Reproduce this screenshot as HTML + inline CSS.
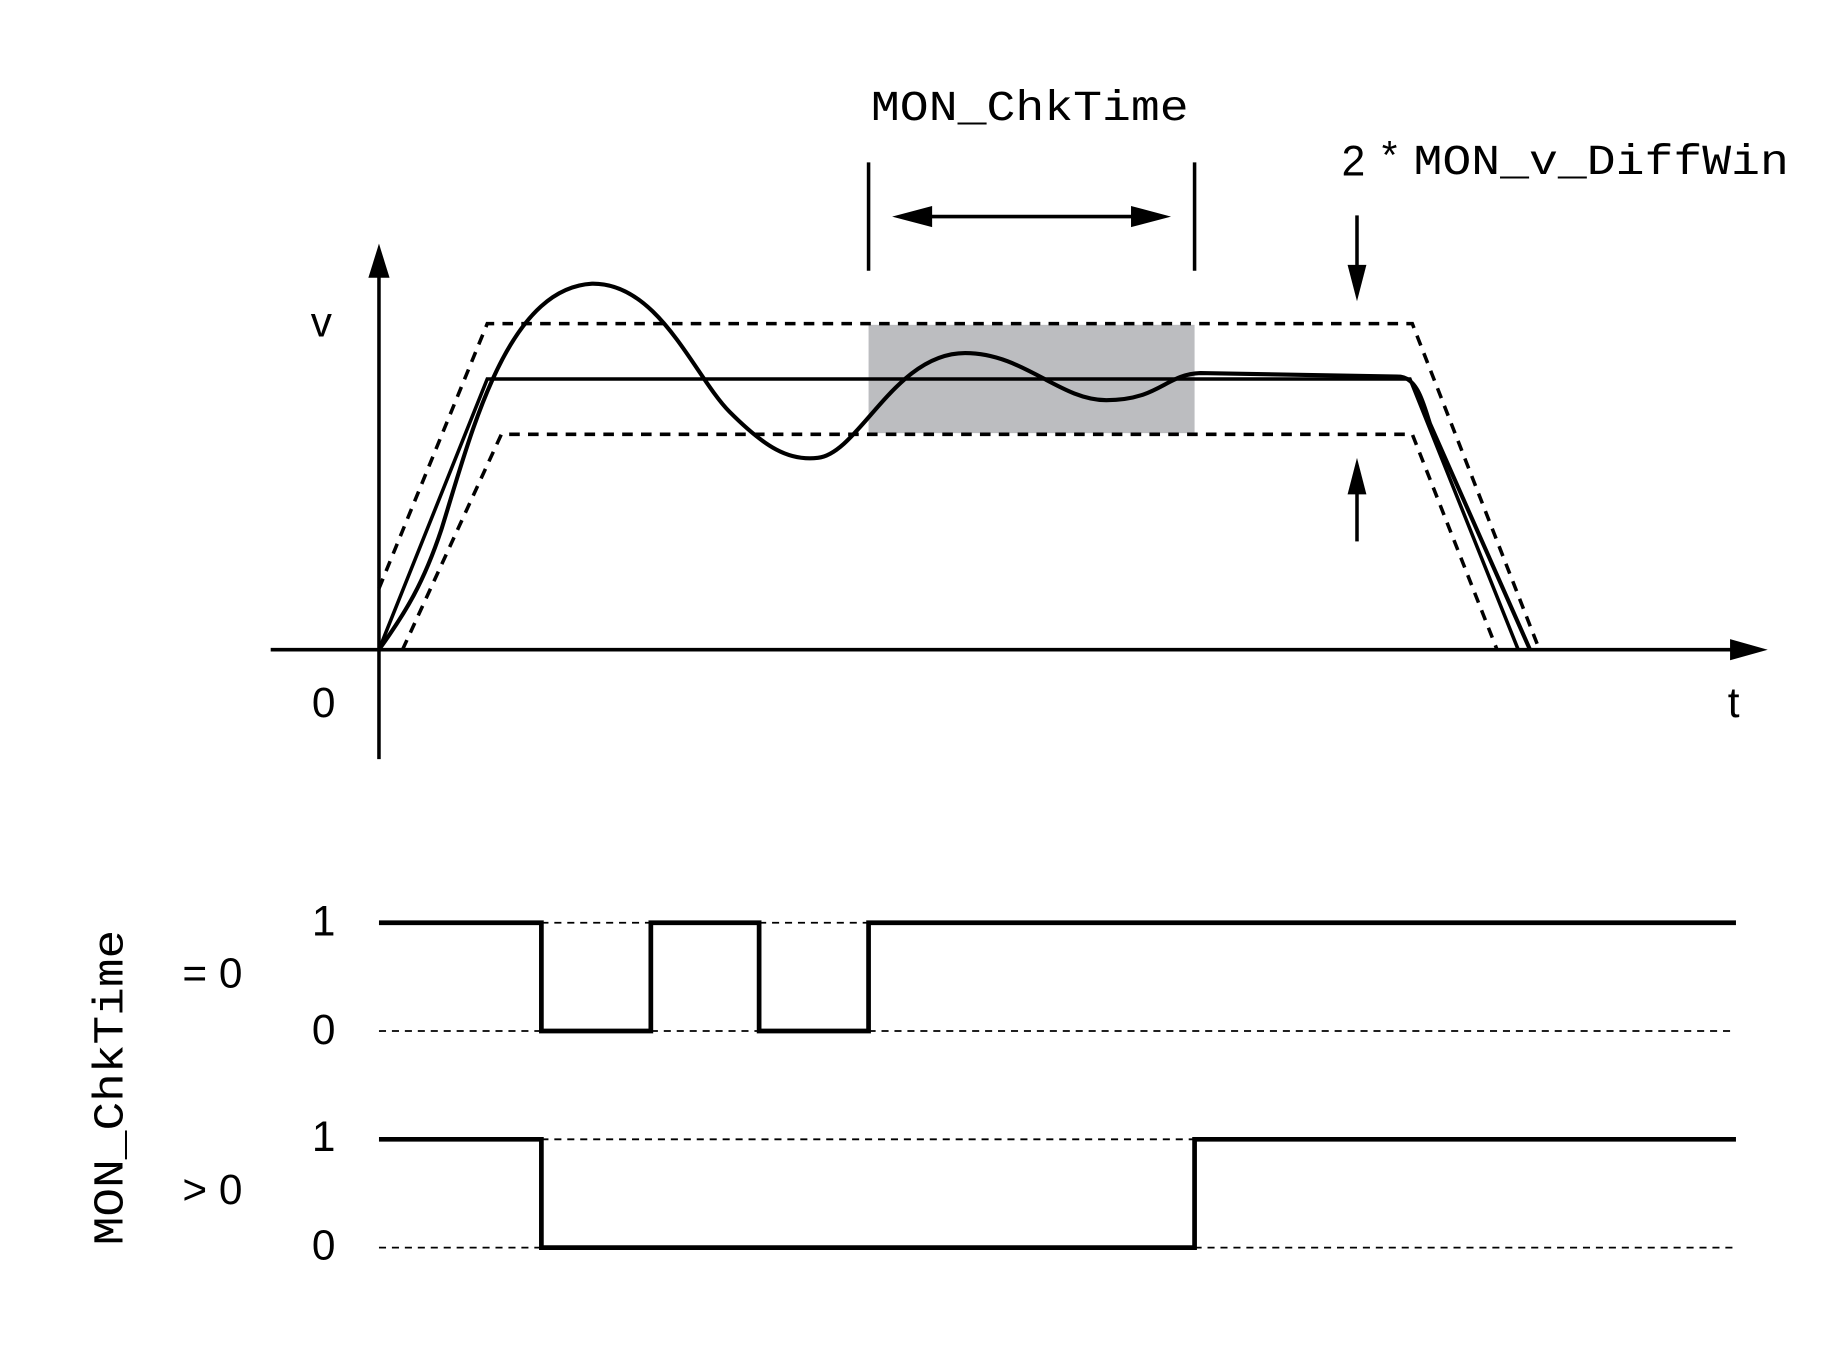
<!DOCTYPE html>
<html><head><meta charset="utf-8"><style>html,body{margin:0;padding:0;background:#fff}svg{display:block}</style></head>
<body>
<svg width="1836" height="1350" viewBox="0 0 1560 1147" preserveAspectRatio="none" xmlns="http://www.w3.org/2000/svg">
<rect width="1560" height="1147" fill="#fff"/>
<rect x="738" y="276" width="277" height="92" fill="#bcbdc0"/>
<g fill="none" stroke="#000">
<line x1="322" y1="645" x2="322" y2="225" stroke-width="3"/>
<polygon points="322,207 313,236 331,236" fill="#000" stroke="none"/>
<line x1="230" y1="552" x2="1480" y2="552" stroke-width="3"/>
<polygon points="1502,552 1470,543 1470,561" fill="#000" stroke="none"/>
<polyline points="322,500 414,275 1200,275 1308,552" stroke-width="3" stroke-dasharray="9,7"/>
<polyline points="342,552 426,369 1200,369 1272,552" stroke-width="3" stroke-dasharray="9,7"/>
<polyline points="322,552 414,322 1198,322 1290,552" stroke-width="3"/>
<path d="M322,552 C345,520 360,495 375,450 C400,370 430,245 503,241 C560,240 590,320 620,350 C650,380 670,392 695,389 C730,385 760,300 820,300 C870,300 900,340 940,340 C985,340 990,318 1020,317 L1190,320 C1205,322 1210,345 1215,360 L1300,552" stroke-width="3.5"/>
<line x1="738" y1="138" x2="738" y2="230" stroke-width="3"/>
<line x1="1015" y1="138" x2="1015" y2="230" stroke-width="3"/>
<line x1="780" y1="184" x2="973" y2="184" stroke-width="3"/>
<polygon points="758,184 792,175 792,193" fill="#000" stroke="none"/>
<polygon points="995,184 961,175 961,193" fill="#000" stroke="none"/>
<line x1="1153" y1="183" x2="1153" y2="230" stroke-width="3"/>
<polygon points="1153,256 1145,225 1161,225" fill="#000" stroke="none"/>
<line x1="1153" y1="460" x2="1153" y2="415" stroke-width="3"/>
<polygon points="1153,389 1145,420 1161,420" fill="#000" stroke="none"/>
<g stroke-width="1.5" stroke-dasharray="6,5">
<line x1="460" y1="784" x2="553" y2="784"/><line x1="645" y1="784" x2="738" y2="784"/>
<line x1="322" y1="876" x2="460" y2="876"/><line x1="553" y1="876" x2="645" y2="876"/><line x1="738" y1="876" x2="1475" y2="876"/>
<line x1="460" y1="968" x2="1015" y2="968"/>
<line x1="322" y1="1060" x2="460" y2="1060"/><line x1="1015" y1="1060" x2="1475" y2="1060"/>
</g>
<polyline points="322,784 460,784 460,876 553,876 553,784 645,784 645,876 738,876 738,784 1475,784" stroke-width="4"/>
<polyline points="322,968 460,968 460,1060 1015,1060 1015,968 1475,968" stroke-width="4"/>
</g>
<g font-family="Liberation Sans, sans-serif" font-size="36" fill="#000">
<text x="264" y="286">v</text>
<text x="265" y="609">0</text>
<text x="1468" y="609">t</text>
<text x="1140" y="149">2</text>
<text x="1174" y="143" font-size="34">*</text>
<text x="265" y="795">1</text>
<text x="155" y="839">= 0</text>
<text x="265" y="887">0</text>
<text x="265" y="978">1</text>
<text x="155" y="1023">&gt; 0</text>
<text x="265" y="1070">0</text>
</g>
<g font-family="Liberation Mono, monospace" font-size="36" fill="#000">
<text x="740" y="102" textLength="270" lengthAdjust="spacingAndGlyphs">MON_ChkTime</text>
<text x="1201" y="148" textLength="319" lengthAdjust="spacingAndGlyphs">MON_v_DiffWin</text>
<text transform="translate(104,1058) rotate(-90)" textLength="268" lengthAdjust="spacingAndGlyphs">MON_ChkTime</text>
</g>
</svg>
</body></html>
